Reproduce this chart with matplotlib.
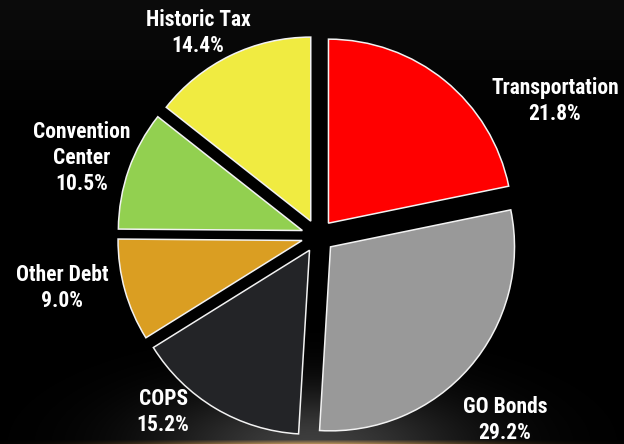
import numpy as np
import matplotlib
matplotlib.use("Agg")
import matplotlib.pyplot as plt
from matplotlib import font_manager

# Debt composition shares (percent), clockwise from 12 o'clock
categories = ["Transportation", "GO Bonds", "COPS", "Other Debt",
              "Convention\nCenter", "Historic Tax"]
shares = [21.8, 29.2, 15.2, 9.0, 10.5, 14.4]
colors = ["#FF0000", "#999999", "#232427", "#DA9E22", "#92D050", "#F0EB41"]

W, H = 624, 444
R_PX = 184.0           # pie radius in pixels
CX, CY = 318.0, 236.0  # pie centre (pixels from top-left)

# Prefer a narrow bold sans for the labels
installed = {f.name: f for f in font_manager.fontManager.ttflist}
narrow = [f for f in font_manager.fontManager.ttflist
          if f.stretch in ("condensed", "semi-condensed", "extra-condensed")
          or "Narrow" in f.name or "Condensed" in f.name]
label_family = None
label_stretch = "normal"
for cand in ["Liberation Sans Narrow", "Arial Narrow", "Roboto Condensed",
             "Open Sans Condensed"]:
    if cand in installed:
        label_family = cand
        break
if label_family is None:
    for f in narrow:
        if f.name in ("DejaVu Sans", "Roboto", "Open Sans", "Noto Sans", "Lato", "Inter"):
            label_family = f.name
            label_stretch = "condensed"
            break
if label_family is None:
    label_family = "Liberation Sans"

fig = plt.figure(figsize=(W / 100, H / 100), dpi=100)
fig.patch.set_facecolor("black")
ax = fig.add_axes([0, 0, 1, 1])
x0, x1 = -CX / R_PX, (W - CX) / R_PX
y0, y1 = -(H - CY) / R_PX, CY / R_PX
ax.axis("off")

# Dark backdrop with a faint spotlight at the bottom edge
yy, xx = np.mgrid[0:H, 0:W].astype(float)
bg = np.zeros((H, W, 3))
top = 12.0 * np.clip(1 - yy / 120.0, 0, 1)
spot = 62.0 * np.exp(-((xx - 312) / 150.0) ** 2 - ((yy - H) / 55.0) ** 2)
for c in range(3):
    bg[..., c] = top + spot
band = np.exp(-((xx - 312) / 170.0) ** 2) * np.clip((yy - (H - 5)) / 4.0, 0, 1)
bg[..., 0] += 110 * band
bg[..., 1] += 75 * band
bg[..., 2] += 25 * band
bg = np.clip(bg / 255.0, 0, 1)
ax.imshow(bg, extent=(x0, x1, y0, y1), aspect="auto", zorder=0)

wedges, _ = ax.pie(
    shares,
    colors=colors,
    startangle=90,
    counterclock=False,
    radius=1.0,
    explode=[0.09] * len(shares),
    wedgeprops=dict(edgecolor="#F2F2F2", linewidth=1.1),
    normalize=True,
)
for w in wedges:
    w.set_zorder(2)
ax.set_xlim(x0, x1)
ax.set_ylim(y0, y1)
ax.set_aspect("auto")

# Label anchor points in pixels (centre of each text block)
label_px = [(555, 101), (505, 420), (163, 412), (62, 288), (82, 158), (198, 33)]
for name, val, (px, py) in zip(categories, shares, label_px):
    ax.text((px - CX) / R_PX, (CY - py) / R_PX, f"{name}\n{val:.1f}%",
            ha="center", va="center", color="white", fontsize=15.5,
            fontweight="bold", family=[label_family, "DejaVu Sans"],
            fontstretch=label_stretch, linespacing=1.22, zorder=3)

fig.savefig("out.png", dpi=100, facecolor="black")
